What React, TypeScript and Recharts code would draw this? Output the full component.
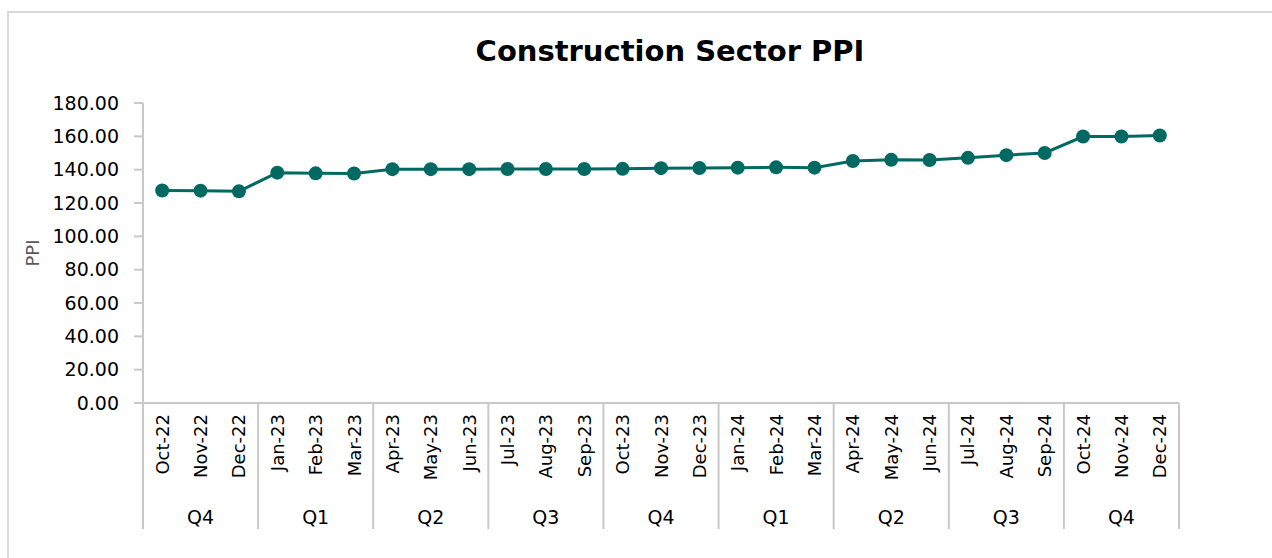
import { LineChart, Line, XAxis, YAxis } from 'recharts';

const months = [
  'Oct-22', 'Nov-22', 'Dec-22',
  'Jan-23', 'Feb-23', 'Mar-23', 'Apr-23', 'May-23', 'Jun-23',
  'Jul-23', 'Aug-23', 'Sep-23', 'Oct-23', 'Nov-23', 'Dec-23',
  'Jan-24', 'Feb-24', 'Mar-24', 'Apr-24', 'May-24', 'Jun-24',
  'Jul-24', 'Aug-24', 'Sep-24', 'Oct-24', 'Nov-24', 'Dec-24',
];

const quarters = ['Q4', 'Q1', 'Q2', 'Q3', 'Q4', 'Q1', 'Q2', 'Q3', 'Q4'];

const ppi = [
  127.5, 127.4, 127.0,
  138.2, 137.8, 137.7, 140.3, 140.3, 140.3,
  140.4, 140.4, 140.4, 140.5, 140.9, 141.0,
  141.2, 141.4, 141.2, 145.2, 145.9, 145.8,
  147.1, 148.7, 150.0, 159.9, 159.9, 160.5,
];

const yTicks = [0, 20, 40, 60, 80, 100, 120, 140, 160, 180];

const data = months.map((m, i) => ({ month: m, ppi: ppi[i] }));

const W = 1272;
const H = 558;
const MARGIN = { top: 103, right: 93, left: 18, bottom: 20 };
const Y_AXIS_W = 125;
const X_AXIS_H = 135;
const PLOT_W = W - MARGIN.left - MARGIN.right - Y_AXIS_W;
const BAND = PLOT_W / months.length;
const LINE_COLOR = '#006A62';
const AXIS_COLOR = '#C8C8C8';
const FONT = '"DejaVu Sans", sans-serif';

const MonthTick = (props: any) => {
  const { x, y, payload, index } = props;
  const i = index ?? payload.index;
  const left = x - BAND / 2;
  const right = x + BAND / 2;
  return (
    <g>
      <text
        x={x}
        y={y + 11}
        transform={`rotate(-90, ${x}, ${y + 11})`}
        textAnchor="end"
        dominantBaseline="central"
        fontSize={18}
        fontFamily={FONT}
        fill="#000"
      >
        {payload.value}
      </text>
      {i % 3 === 0 && (
        <line x1={left} y1={y} x2={left} y2={y + 126} stroke={AXIS_COLOR} strokeWidth={2} />
      )}
      {i === months.length - 1 && (
        <line x1={right} y1={y} x2={right} y2={y + 126} stroke={AXIS_COLOR} strokeWidth={2} />
      )}
      {i % 3 === 1 && (
        <text
          x={x}
          y={y + 114}
          textAnchor="middle"
          dominantBaseline="central"
          fontSize={19}
          fontFamily={FONT}
          fill="#000"
        >
          {quarters[Math.floor(i / 3)]}
        </text>
      )}
    </g>
  );
};

const PpiLabel = (props: any) => {
  const { viewBox } = props;
  const cx = viewBox.x + 14;
  const cy = viewBox.y + viewBox.height / 2;
  return (
    <text
      x={cx}
      y={cy}
      transform={`rotate(-90, ${cx}, ${cy})`}
      textAnchor="middle"
      dominantBaseline="central"
      fontSize={18}
      fontFamily={FONT}
      fill="#595959"
    >
      PPI
    </text>
  );
};

export default function App() {
  return (
    <div
      style={{
        position: 'absolute',
        left: 0,
        top: 0,
        width: W,
        height: H,
        overflow: 'hidden',
        background: '#fff',
      }}
    >
      <div
        style={{
          position: 'absolute',
          left: 7,
          top: 11,
          width: W,
          height: H,
          border: '2px solid #D9D9D9',
        }}
      />
      <div
        style={{
          position: 'absolute',
          left: 0,
          top: 34,
          width: 1340,
          textAlign: 'center',
          fontFamily: FONT,
          fontWeight: 'bold',
          fontSize: 29,
          color: '#000',
        }}
      >
        Construction Sector PPI
      </div>
      <div style={{ position: 'absolute', left: 0, top: 0 }}>
        <LineChart width={W} height={H} data={data} margin={MARGIN}>
          <XAxis
            dataKey="month"
            interval={0}
            height={X_AXIS_H}
            padding={{ left: BAND / 2, right: BAND / 2 }}
            tick={<MonthTick />}
            tickLine={false}
            tickSize={0}
            tickMargin={0}
            axisLine={{ stroke: AXIS_COLOR, strokeWidth: 2 }}
          />
          <YAxis
            width={Y_AXIS_W}
            domain={[0, 180]}
            ticks={yTicks}
            interval={0}
            tickFormatter={(v: number) => v.toFixed(2)}
            tick={{ fontSize: 19, fontFamily: FONT, fill: '#000' }}
            tickSize={9}
            tickMargin={15}
            tickLine={{ stroke: AXIS_COLOR, strokeWidth: 2 }}
            axisLine={{ stroke: AXIS_COLOR, strokeWidth: 2 }}
            label={<PpiLabel />}
          />
          <Line
            type="linear"
            dataKey="ppi"
            stroke={LINE_COLOR}
            strokeWidth={3}
            dot={{ r: 7, fill: LINE_COLOR, stroke: 'none' }}
            activeDot={false}
            isAnimationActive={false}
          />
        </LineChart>
      </div>
    </div>
  );
}
